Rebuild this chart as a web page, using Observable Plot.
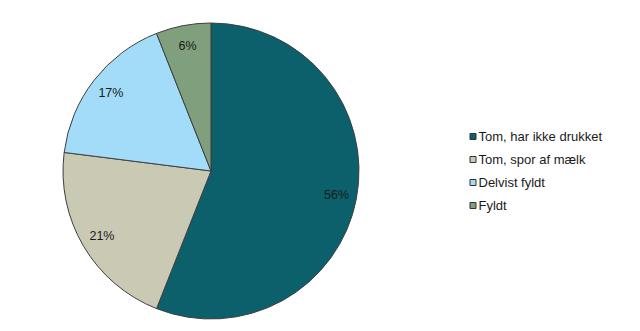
<!DOCTYPE html>
<html><head><meta charset="utf-8">
<script src="https://cdn.jsdelivr.net/npm/d3@7"></script>
<script src="https://cdn.jsdelivr.net/npm/@observablehq/plot@0.6"></script>
<style>body{margin:0;background:#fff;font-family:"Liberation Sans",Arial,sans-serif}</style>
</head><body><div id="chart"></div>
<script>
const categories = ["Tom, har ikke drukket", "Tom, spor af mælk", "Delvist fyldt", "Fyldt"];
const values = [56, 21, 17, 6];
const labels = ["56%", "21%", "17%", "6%"];
const colors = ["#0b606c", "#cac9b4", "#a2dcf8", "#809f7c"];

const data = categories.map((c, i) => ({category: c, value: values[i], label: labels[i]}));
const arcs = d3.pie().sort(null).value(d => d.value)(data);
const labelR = 0.86;
const labelData = arcs.map(a => {
  const m = (a.startAngle + a.endAngle) / 2;
  return {label: a.data.label, u: labelR * Math.sin(m), v: labelR * Math.cos(m)};
});
const R = 148, cx = 211, cy = 171, W = 640, H = 331;
const legendData = data.map((d, i) => ({category: d.category, u: (472.5 - cx) / R, v: (cy - (136 + 23 * i)) / R}));

const xDomain = [-cx / R, (W - cx) / R];
const yDomain = [(cy - H) / R, cy / R];

function pieMark(index, scales) {
  const x = scales.x, y = scales.y;
  const r = x(1) - x(0);
  const g = d3.create("svg:g").attr("transform", `translate(${x(0)},${y(0)})`);
  const arc = d3.arc().innerRadius(0).outerRadius(r);
  g.selectAll("path").data(arcs).join("path")
    .attr("d", arc)
    .attr("fill", (d, i) => scales.color(d.data.category))
    .attr("stroke", "#3f3f3f")
    .attr("stroke-width", 1)
    .attr("stroke-linejoin", "round");
  return g.node();
}

const chart = Plot.plot({
  width: W, height: H, margin: 0,
  x: {domain: xDomain, axis: null},
  y: {domain: yDomain, axis: null},
  color: {domain: categories, range: colors},
  style: {fontFamily: '"Liberation Sans", Arial, sans-serif', background: "#fff"},
  marks: [
    pieMark,
    Plot.text(labelData, {x: "u", y: "v", text: "label", fontSize: 12.5, fill: "#1a1a1a"}),
    Plot.dot(legendData, {x: "u", y: "v", symbol: "square", r: 3.4, fill: "category", stroke: "#333", strokeWidth: 1}),
    Plot.text(legendData, {x: "u", y: "v", text: "category", textAnchor: "start", dx: 5.5, fontSize: 13, fill: "#1a1a1a"})
  ]
});
document.getElementById("chart").append(chart);
</script></body></html>
